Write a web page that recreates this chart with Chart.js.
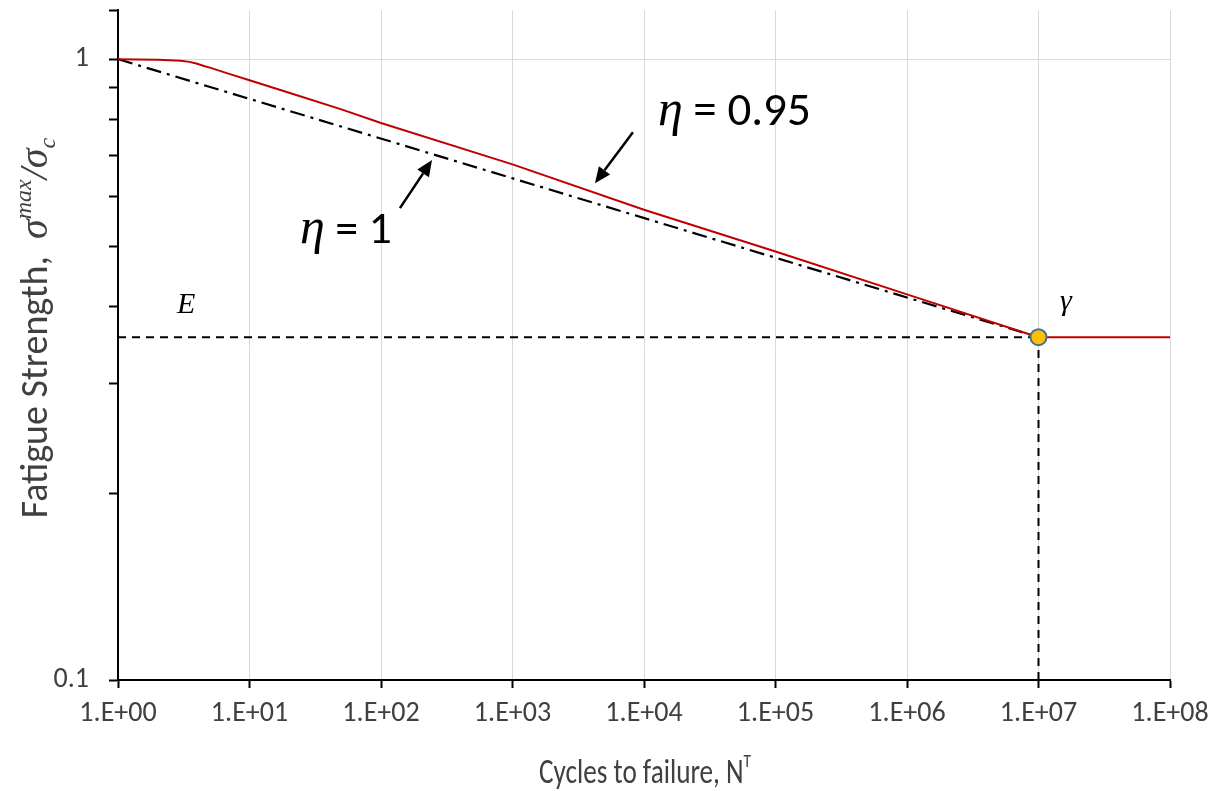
<!DOCTYPE html>
<html>
<head>
<meta charset="utf-8">
<script src="https://cdn.jsdelivr.net/npm/chart.js@4.4.1/dist/chart.umd.min.js"></script>
<style>
  body { margin: 0; background: #fff; }
  canvas { display: block; }
</style>
</head>
<body>
<canvas id="fatigue-canvas" width="1216" height="791"></canvas>
<script>
// cycles to failure (x) and normalised fatigue strength (y)
var cyclesEta095 = [1, 2, 3, 3.5, 4, 4.5, 5, 7, 10, 20, 50, 100, 1e3, 1e4, 1e5, 1e6, 1e7];
var strengthEta095 = [1, 0.998, 0.994, 0.990, 0.983, 0.975, 0.969, 0.947, 0.925, 0.883, 0.830, 0.789, 0.677, 0.572, 0.490, 0.418, 0.3566];

var cyclesFlat = [1e7, 1e8];
var strengthFlat = [0.3566, 0.3566];

var cyclesEta1 = [1, 1e7];
var strengthEta1 = [1, 0.3566];

var enduranceLimit = 0.3566;
var enduranceCycles = 1e7;

var xTickValues = [1, 1e1, 1e2, 1e3, 1e4, 1e5, 1e6, 1e7, 1e8];
var xTickLabels = ['1.E+00', '1.E+01', '1.E+02', '1.E+03', '1.E+04', '1.E+05', '1.E+06', '1.E+07', '1.E+08'];
var yTickValues = [0.1, 0.2, 0.3, 0.4, 0.5, 0.6, 0.7, 0.8, 0.9, 1, 1.2];
var yTickLabels = ['0.1', '', '', '', '', '', '', '', '', '1', ''];

var sans = 'Carlito, "Open Sans", sans-serif';
var serif = '"Liberation Serif", "DejaVu Serif", serif';

function pairs(xs, ys) {
    return xs.map(function (x, i) { return { x: x, y: ys[i] }; });
}

// text and arrows placed in data space
var arrows = [
    { from: [Math.pow(10, 3.916), Math.pow(10, -0.1176)], to: [Math.pow(10, 3.627), Math.pow(10, -0.1997)] },
    { from: [Math.pow(10, 2.144), Math.pow(10, -0.240)], to: [Math.pow(10, 2.388), Math.pow(10, -0.1626)] }
];

var overlay = {
    id: 'overlay',
    afterDraw: function (chart) {
        var c = chart.ctx;
        var xs = chart.scales.x, ys = chart.scales.y;
        function px(x) { return xs.getPixelForValue(x); }
        function py(y) { return ys.getPixelForValue(y); }

        c.save();
        c.fillStyle = '#000';
        c.strokeStyle = '#000';
        c.textBaseline = 'alphabetic';
        c.textAlign = 'left';

        // arrows
        arrows.forEach(function (a) {
            var x1 = px(a.from[0]), y1 = py(a.from[1]);
            var x2 = px(a.to[0]), y2 = py(a.to[1]);
            var ang = Math.atan2(y2 - y1, x2 - x1);
            var hl = 16, hw = 7;
            var bx = x2 - hl * Math.cos(ang), by = y2 - hl * Math.sin(ang);
            c.lineWidth = 2.5;
            c.beginPath();
            c.moveTo(x1, y1);
            c.lineTo(bx, by);
            c.stroke();
            c.beginPath();
            c.moveTo(x2, y2);
            c.lineTo(bx + hw * Math.sin(ang), by - hw * Math.cos(ang));
            c.lineTo(bx - hw * Math.sin(ang), by + hw * Math.cos(ang));
            c.closePath();
            c.fill();
        });

        function run(x, y, parts) {
            parts.forEach(function (p) {
                c.font = p.font;
                c.fillText(p.t, x, y + (p.dy || 0));
                x += c.measureText(p.t).width;
            });
        }
        function width(parts) {
            var w = 0;
            parts.forEach(function (p) { c.font = p.font; w += c.measureText(p.t).width; });
            return w;
        }

        run(px(Math.pow(10, 4.106)), py(Math.pow(10, -0.106)), [
            { t: '\u03B7', font: 'italic 50px ' + serif },
            { t: ' = 0.95', font: '47px ' + sans }
        ]);
        run(px(Math.pow(10, 1.384)), py(Math.pow(10, -0.296)), [
            { t: '\u03B7', font: 'italic 50px ' + serif },
            { t: ' = 1', font: '46px ' + sans }
        ]);
        run(px(Math.pow(10, 0.449)), py(Math.pow(10, -0.409)), [
            { t: 'E', font: 'italic 30px ' + serif }
        ]);
        run(px(Math.pow(10, 7.163)), py(Math.pow(10, -0.404)), [
            { t: '\u03B3', font: 'italic 30px ' + serif }
        ]);

        // x axis title (slightly condensed like the original)
        c.fillStyle = '#404040';
        var xParts = [
            { t: 'Cycles to failure, N', font: '34px ' + sans },
            { t: 'T', font: '19px ' + sans, dy: -16 }
        ];
        c.save();
        c.translate(645, 783);
        c.scale(0.8, 1);
        run(-width(xParts) / 2, 0, xParts);
        c.restore();

        // y axis title
        var yParts = [
            { t: 'Fatigue Strength,  ', font: '38px ' + sans },
            { t: '\u03C3', font: 'italic 40px ' + serif },
            { t: 'max', font: 'italic 24px ' + serif, dy: -16 },
            { t: '/\u03C3', font: 'italic 40px ' + serif },
            { t: 'c', font: 'italic 24px ' + serif, dy: 8 }
        ];
        var w = width(yParts);
        c.translate(47, 328);
        c.rotate(-Math.PI / 2);
        run(-w / 2, 0, yParts);
        c.restore();
    }
};

var ctx = document.getElementById('fatigue-canvas').getContext('2d');
var myChart = new Chart(ctx, {
    type: 'line',
    data: {
        datasets: [{
            label: 'gamma',
            data: pairs([enduranceCycles], [enduranceLimit]),
            showLine: false,
            pointRadius: 8,
            pointBackgroundColor: '#FFC000',
            pointBorderColor: '#41719C',
            pointBorderWidth: 2
        }, {
            label: 'eta 0.95',
            data: pairs(cyclesEta095, strengthEta095),
            borderColor: '#C00000',
            borderWidth: 2,
            pointRadius: 0,
            tension: 0
        }, {
            label: 'eta 0.95 flat',
            data: pairs(cyclesFlat, strengthFlat),
            borderColor: '#C00000',
            borderWidth: 2,
            pointRadius: 0
        }, {
            label: 'eta 1',
            data: pairs(cyclesEta1, strengthEta1),
            borderColor: '#000',
            borderWidth: 2.2,
            borderDash: [15, 6, 3, 6],
            pointRadius: 0
        }, {
            label: 'E',
            data: pairs([1, enduranceCycles], [enduranceLimit, enduranceLimit]),
            borderColor: '#000',
            borderWidth: 2,
            borderDash: [8, 6],
            pointRadius: 0
        }, {
            label: 'N limit',
            data: pairs([enduranceCycles, enduranceCycles], [0.1, enduranceLimit]),
            borderColor: '#000',
            borderWidth: 2,
            borderDash: [8, 6],
            pointRadius: 0
        }]
    },
    options: {
        responsive: false,
        animation: false,
        layout: { padding: { top: 10, right: 46, left: 0, bottom: 0 } },
        plugins: {
            legend: { display: false },
            tooltip: { enabled: false }
        },
        scales: {
            x: {
                type: 'logarithmic',
                min: 1,
                max: 1e8,
                afterBuildTicks: function (scale) {
                    scale.ticks = xTickValues.map(function (v) { return { value: v }; });
                },
                afterFit: function (scale) {
                    scale.height = 111;
                    scale.paddingLeft = 0;
                    scale.paddingRight = 0;
                },
                ticks: {
                    autoSkip: false,
                    maxRotation: 0,
                    padding: 9,
                    color: '#404040',
                    font: { family: sans, size: 28 },
                    callback: function (v, i) { return xTickLabels[i]; }
                },
                grid: { color: '#D9D9D9', lineWidth: 1, tickColor: '#000', tickLength: 8, tickWidth: 2 },
                border: { color: '#000', width: 2 }
            },
            y: {
                type: 'logarithmic',
                min: 0.1,
                max: 1.2,
                afterBuildTicks: function (scale) {
                    scale.ticks = yTickValues.map(function (v) { return { value: v }; });
                },
                afterFit: function (scale) {
                    scale.width = 118;
                    scale.paddingTop = 0;
                    scale.paddingBottom = 0;
                },
                ticks: {
                    autoSkip: false,
                    padding: 20,
                    color: '#404040',
                    font: { family: sans, size: 28 },
                    callback: function (v, i) { return yTickLabels[i]; }
                },
                grid: {
                    color: function (c) { return c.tick && c.tick.value === 1 ? '#D9D9D9' : 'rgba(0,0,0,0)'; },
                    lineWidth: 1,
                    tickColor: '#000',
                    tickLength: 9,
                    tickWidth: 2
                },
                border: { color: '#000', width: 2 }
            }
        }
    },
    plugins: [overlay]
});
</script>
</body>
</html>
